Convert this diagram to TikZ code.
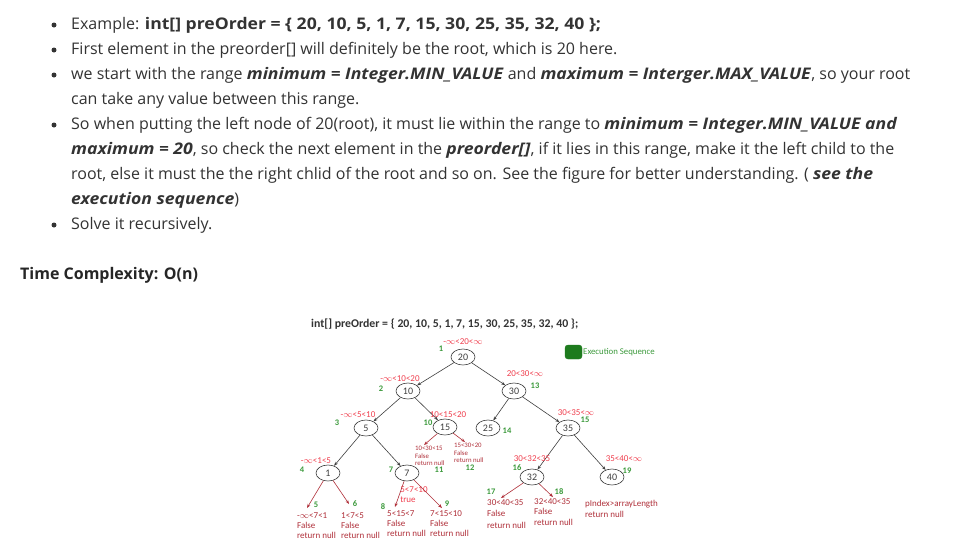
\documentclass[tikz,border=0pt]{standalone}
\usepackage{fontspec}
\setmainfont{Open Sans}[BoldFeatures={FakeStretch=1.1},BoldItalicFeatures={FakeStretch=1.1}]
\newfontfamily\headfont{Open Sans}
\newfontfamily\dfont{Carlito}
\usetikzlibrary{arrows.meta,shapes.geometric}
\definecolor{txt}{HTML}{333333}
\definecolor{rng}{HTML}{F0404F}
\definecolor{leaf}{HTML}{B0303A}
\definecolor{seq}{HTML}{3C9A3C}
\definecolor{edgec}{HTML}{404040}
\definecolor{boxg}{HTML}{1E7B1E}
\newcommand{\inft}{$\infty$}
\begin{document}
\begin{tikzpicture}[x=1pt,y=-1pt,
 line/.style={anchor=west,inner sep=0pt,text height=12pt,text depth=4pt,font=\fontsize{16}{20}\selectfont,text=txt},
 bul/.style={circle,fill=txt,inner sep=0pt,minimum size=5pt},
 tnode/.style={draw=edgec,ellipse,minimum width=24pt,minimum height=16pt,inner sep=0pt,font=\dfont\fontsize{10}{12}\selectfont,text=edgec,line width=0.6pt},
 tedge/.style={draw=edgec,line width=0.6pt,-{Stealth[length=4pt,width=3pt]}},
 redge/.style={draw=leaf,line width=0.6pt,-{Stealth[length=4pt,width=3pt]}},
 rlab/.style={font=\dfont\fontsize{9}{9}\selectfont,text=rng,inner sep=0pt},
 snum/.style={font=\dfont\bfseries\fontsize{8.5}{9}\selectfont,text=seq,inner sep=0pt},
 llab/.style={font=\dfont\fontsize{9}{10}\selectfont,text=leaf,inner sep=0pt,anchor=north west,align=left},
]
\useasboundingbox[fill=white] (0,0) rectangle (966,555);
% ---------- text ----------
\foreach \yy/\nm in {25/b1,50/b2,75/b3,125/b4,225/b5}{\node[bul] (\nm) at (54,\yy) {};}
\node[line] (t1) at (71,25) {Example: \textbf{int[] preOrder = \{ 20, 10, 5, 1, 7, 15, 30, 25, 35, 32, 40 \};}};
\node[line] (t2) at (71,50) {First element in the preorder[] will definitely be the root, which is 20 here.};
\node[line] (t3) at (71,75) {we start with the range \textbf{\textit{minimum = Integer.MIN\_VALUE}} and \textbf{\textit{maximum = Interger.MAX\_VALUE}}, so your root};
\node[line] (t4) at (71,100) {can take any value between this range.};
\node[line] (t5) at (71,125) {So when putting the left node of 20(root), it must lie within the range to \textbf{\textit{minimum = Integer.MIN\_VALUE and}}};
\node[line] (t6) at (71,150) {\textbf{\textit{maximum = 20}}, so check the next element in the \textbf{\textit{preorder[]}}, if it lies in this range, make it the left child to the};
\node[line] (t7) at (71,175) {root, else it must the the right chlid of the root and so on. See the figure for better understanding. ( \textbf{\textit{see the}}};
\node[line] (t8) at (71,200) {\textbf{\textit{execution sequence}})};
\node[line] (t9) at (71,225) {Solve it recursively.};
\node[line,text=black!85,font=\headfont\bfseries\fontsize{16}{20}\selectfont] (tc) at (20,275) {Time Complexity: O(n)};
% ---------- diagram ----------
\node[anchor=west,inner sep=0pt,font=\dfont\bfseries\fontsize{11.8}{13}\selectfont,text=txt] (title) at (311,324) {int[] preOrder = \{ 20, 10, 5, 1, 7, 15, 30, 25, 35, 32, 40 \};};
\node[draw=boxg,fill=boxg,rounded corners=3pt,minimum width=17pt,minimum height=14pt,inner sep=0pt] (legbox) at (573.5,352) {};
\node[anchor=west,inner sep=0pt,font=\dfont\fontsize{8.8}{9}\selectfont,text=seq] (legtxt) at (583,352) {Execution Sequence};

\node[tnode] (n20) at (463,357) {20};
\node[tnode] (n10) at (408,391) {10};
\node[tnode] (n30) at (514,391) {30};
\node[tnode] (n5)  at (366,428) {5};
\node[tnode] (n15) at (445,427) {15};
\node[tnode] (n25) at (488,428) {25};
\node[tnode] (n35) at (568,428) {35};
\node[tnode] (n1)  at (328,473) {1};
\node[tnode] (n7)  at (407,473) {7};
\node[tnode] (n32) at (532,477) {32};
\node[tnode] (n40) at (612,477) {40};

\draw[tedge] (n20) -- (n10);
\draw[tedge] (n20) -- (n30);
\draw[tedge] (n10) -- (n5);
\draw[tedge] (n10) -- (n15);
\draw[tedge] (n30) -- (n25);
\draw[tedge] (n30) -- (n35);
\draw[tedge] (n5) -- (n1);
\draw[tedge] (n5) -- (n7);
\draw[tedge] (n35) -- (n32);
\draw[tedge] (n35) -- (n40);

% range labels
\node[rlab] (r20) at (463,342) {-\inft<20<\inft};
\node[rlab] (r10) at (400,379) {-\inft<10<20};
\node[rlab] (r30) at (525,374) {20<30<\inft};
\node[rlab] (r5)  at (358,415) {-\inft<5<10};
\node[rlab] (r15) at (448,415) {10<15<20};
\node[rlab] (r35) at (576,413) {30<35<\inft};
\node[rlab] (r1)  at (316,461) {-\inft<1<5};
\node[rlab] (r32) at (532,459) {30<32<35};
\node[rlab] (r40) at (624,459) {35<40<\inft};
\node[rlab] (r7) at (414,490) {5<7<10};
\node[rlab] (r7t) at (408,500) {true};

% sequence numbers
\foreach \nm/\xx/\yy/\tt in {s1/441/349/1, s2/381/389/2, s13/535/386/13, s3/337/423/3, s10/428/423/10,
  s14/507/431/14, s15/585/420/15, s4/302/470/4, s7/391/470/7, s11/439/470/11, s12/470/468/12,
  s16/517/468/16, s19/627/471/19, s5/316/505/5, s6/355/504/6, s8/383/507/8, s9/447/504/9,
  s17/491/492/17, s18/559/492/18}
  {\node[snum] (\nm) at (\xx,\yy) {\tt};}

% leaf endpoints
\coordinate (e1a) at (307,508);
\coordinate (e1b) at (349,504);
\coordinate (e7a) at (395,507);
\coordinate (e7b) at (442,508);
\coordinate (e15a) at (424,445);
\coordinate (e15b) at (465,442);
\coordinate (e32a) at (501,498);
\coordinate (e32b) at (553,497);
\draw[redge] (n1) -- (e1a);
\draw[redge] (n1) -- (e1b);
\draw[redge] (n7) -- (e7a);
\draw[redge] (n7) -- (e7b);
\draw[redge] (n15) -- (e15a);
\draw[redge] (n15) -- (e15b);
\draw[redge] (n32) -- (e32a);
\draw[redge] (n32) -- (e32b);

% leaf labels
\node[llab] (l1a) at (297,512) {-\inft<7<1\\False\\return null};
\node[llab] (l1b) at (341,512) {1<7<5\\False\\return null};
\node[llab] (l7a) at (387,510) {5<15<7\\False\\return null};
\node[llab] (l7b) at (430,510) {7<15<10\\False\\return null};
\node[llab,font=\dfont\fontsize{6.8}{7.5}\selectfont] (l15a) at (415,446) {10<30<15\\False\\return null};
\node[llab,font=\dfont\fontsize{6.8}{7.5}\selectfont] (l15b) at (454,443) {15<30<20\\False\\return null};
\node[llab,font=\dfont\fontsize{9}{11.5}\selectfont] (l32a) at (487,499) {30<40<35\\False\\return null};
\node[llab,font=\dfont\fontsize{9}{10.5}\selectfont] (l32b) at (534,498) {32<40<35\\False\\return null};
\node[llab,font=\dfont\fontsize{9}{11}\selectfont] (l40) at (585,500) {pIndex>arrayLength\\return null};
\end{tikzpicture}
\end{document}
